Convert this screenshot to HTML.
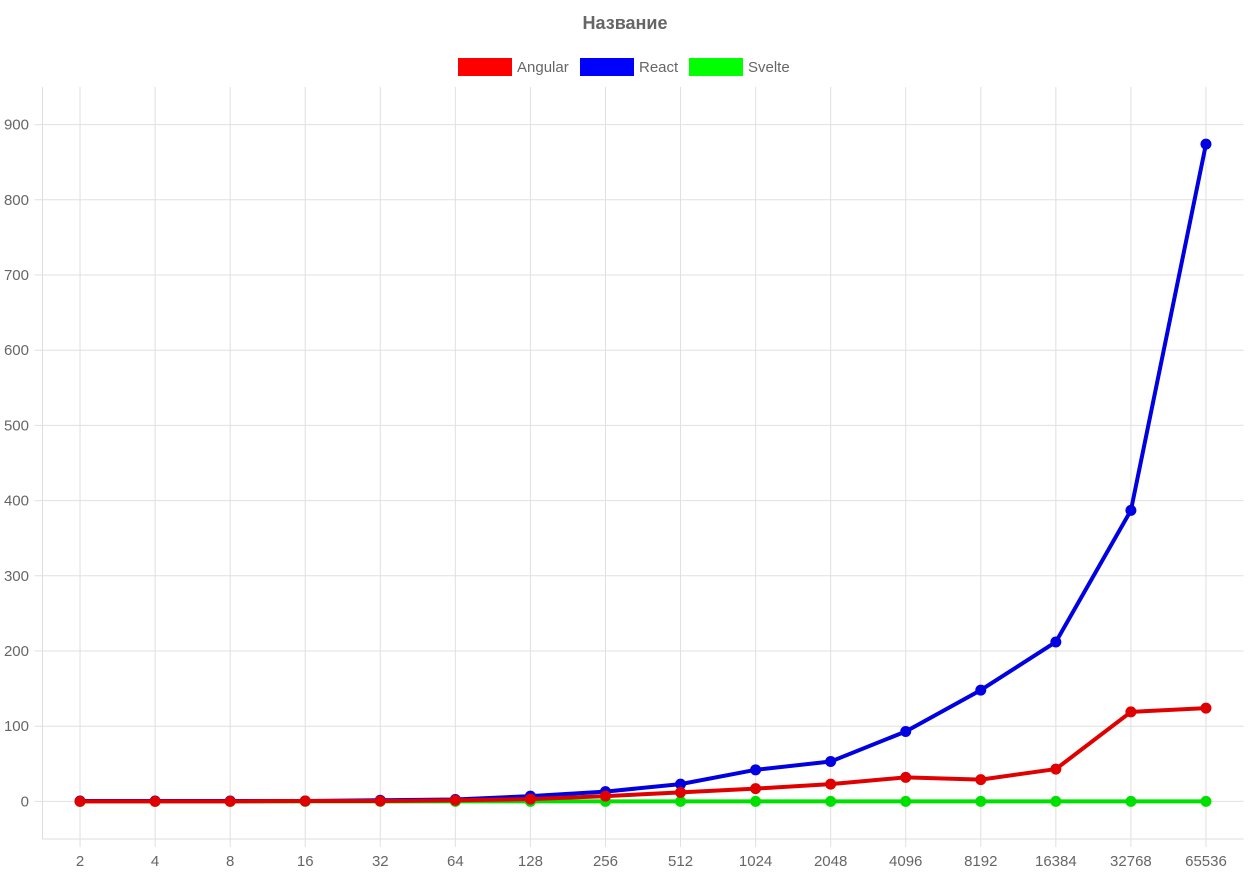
<!DOCTYPE html>
<html><head><meta charset="utf-8"><style>
body{margin:0;background:#fff;width:1250px;height:875px;overflow:hidden;font-family:"Liberation Sans","DejaVu Sans",sans-serif;}
</style></head><body>
<svg id="chart" width="1250" height="875" xmlns="http://www.w3.org/2000/svg">
<text x="625" y="29" text-anchor="middle" font-size="18" font-weight="bold" fill="#666">Название</text>
<g id="legend"></g>
<g id="grid"></g><g id="ticks"></g><g id="series"></g>
</svg>
<script>
const categories=["2","4","8","16","32","64","128","256","512","1024","2048","4096","8192","16384","32768","65536"];
const angular=[0,0,0,0.5,0.5,1.5,3,7,12,17,23,32,29,43,119,124];
const react=[0.5,0.5,0.5,0.5,1.5,2.5,7,13,23,42,53,93,148,212,387,874];
const svelte=[0,0,0,0,0,0,0,0,0,0,0,0,0,0,0,0];
const yTicks=[0,100,200,300,400,500,600,700,800,900];
const seriesNames=["Angular","React","Svelte"];
const NS="http://www.w3.org/2000/svg";
const L=42.5,R=1243.5,T=87,B=839,yMin=-50,yMax=950;
const step=(R-L)/categories.length;
const x=i=>L+step*(i+0.5);
const y=v=>B-(v-yMin)/(yMax-yMin)*(B-T);
function mk(tag,attrs,parent,text){const e=document.createElementNS(NS,tag);for(const k in attrs)e.setAttribute(k,attrs[k]);if(text!==undefined)e.textContent=text;parent.appendChild(e);return e;}
const grid=document.getElementById('grid'),ticks=document.getElementById('ticks'),ser=document.getElementById('series'),leg=document.getElementById('legend');
mk('line',{x1:L,x2:L,y1:T,y2:B,stroke:'#ddd'},grid);
mk('line',{x1:L,x2:R,y1:B,y2:B,stroke:'#ddd'},grid);
categories.forEach((c,i)=>{
 const g=mk('line',{x1:x(i),x2:x(i),y1:T,y2:B+8,stroke:'#e0e0e0'},grid);
 
 
 const t=mk('text',{x:x(i),y:866,'text-anchor':'middle','font-size':15,fill:'#666'},ticks,c);
 
 
});
yTicks.forEach(v=>{
 const g=mk('line',{x1:L-8,x2:R,y1:y(v),y2:y(v),stroke:'#e0e0e0'},grid);
 
 
 const t=mk('text',{x:29,y:y(v)+5,'text-anchor':'end','font-size':15,fill:'#666'},ticks,String(v));
 
 
});
const data=[angular,react,svelte];
const lineColors=['#e00000','#0000e0','#00e000'];
const boxColors=['#ff0000','#0000ff','#00ff00'];
const legX=[458,580,689];
seriesNames.forEach((n,s)=>{
 const r=mk('rect',{x:legX[s],y:58,width:54,height:18,fill:boxColors[s]},leg);
 
 
 const t=mk('text',{x:legX[s]+59,y:72,'font-size':15,fill:'#666'},leg,n);
 
 
});
[2,1,0].forEach(s=>{
 const pts=data[s].map((v,i)=>x(i)+','+y(v)).join(' ');
 const p=mk('polyline',{points:pts,fill:'none',stroke:lineColors[s],'stroke-width':4,'stroke-linejoin':'round'},ser);
 
 
 data[s].forEach((v,i)=>{
  const c=mk('circle',{cx:x(i),cy:y(v),r:5.5,fill:lineColors[s]},ser);
  
  
 });
});
</script>
</body></html>
